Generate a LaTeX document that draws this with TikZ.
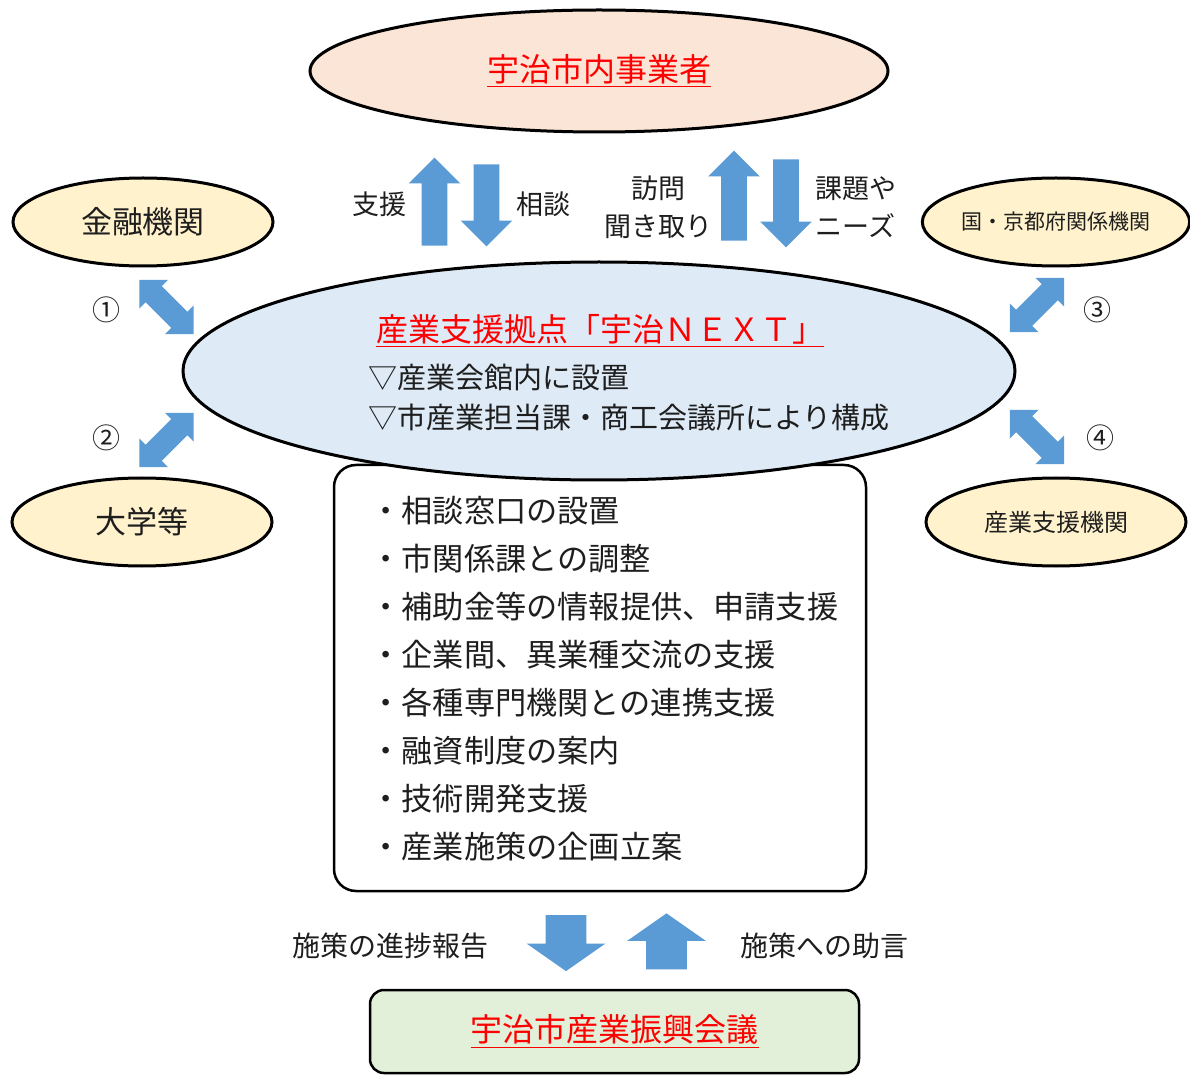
\documentclass[tikz,border=0pt]{standalone}
\usepackage{fontspec}
\setmainfont{Noto Sans CJK JP}
\usepackage{tikz}
\usetikzlibrary{shapes.geometric,shapes.arrows,positioning}
\definecolor{peach}{RGB}{251,229,214}
\definecolor{cream}{RGB}{255,242,204}
\definecolor{skyfill}{RGB}{222,235,247}
\definecolor{leaf}{RGB}{226,240,217}
\definecolor{flow}{RGB}{91,155,213}
\definecolor{title}{RGB}{255,0,0}
\definecolor{ink}{RGB}{30,30,30}
\tikzset{
  party/.style={ellipse,draw=black,line width=1.5pt,inner sep=0pt,text=ink},
  partner/.style={party,fill=cream,minimum width=130pt,minimum height=44pt,font=\fontsize{15.5}{18}\selectfont},
  redtitle/.style={text=title,inner sep=0pt},
  lbl/.style={text=ink,inner sep=0pt,font=\fontsize{13.5}{19}\selectfont},
  numlbl/.style={text=ink,inner sep=0pt,font=\fontsize{14}{16}\selectfont},
  listitem/.style={anchor=west,text=ink,inner sep=0pt,font=\fontsize{15.6}{18}\selectfont},
  upflow/.style={single arrow,fill=flow,draw=none,inner xsep=0pt,inner ysep=6.25pt,rotate=90,
    single arrow head extend=6.5pt},
  downflow/.style={upflow,rotate=180},
  wideflow/.style={single arrow,fill=flow,draw=none,inner xsep=0pt,inner ysep=10pt,
    minimum height=28pt,single arrow head extend=9.5pt,
    single arrow tip angle=110},
  linkflow/.style={double arrow,fill=flow,draw=none,inner xsep=0pt,inner ysep=5.5pt,
    minimum height=38.5pt,double arrow head extend=4.5pt}
}
\begin{document}
\begin{tikzpicture}[x=0.5pt,y=-0.5pt]
  \useasboundingbox (0,0) rectangle (1190,1075);
  % top: businesses in the city
  \node[party,fill=peach,minimum width=289pt,minimum height=61pt,text=title,
    font=\fontsize{16}{18}\selectfont] (firms) at (599,71) {\underline{宇治市内事業者}};
  \node[upflow,minimum height=44pt] (supup) at (434.5,208) {};
  \node[downflow,minimum height=41pt] (consdown) at (486.5,199) {};
  \node[lbl] (sup) at (379,204) {支援};
  \node[lbl] (cons) at (543,204) {相談};
  \node[upflow,minimum height=45pt] (visitup) at (734,202) {};
  \node[downflow,minimum height=44pt] (needdown) at (786,197) {};
  \node[lbl,align=center] (visit) at (658,207) {訪問\\聞き取り};
  \node[lbl,align=left] (needs) at (856,207) {課題や\\ニーズ};
  % partners
  \node[partner] (bank) at (143,222) {金融機関};
  \node[partner] (univ) at (142,522) {大学等};
  \node[partner,font=\fontsize{10.5}{12}\selectfont] (gov) at (1056,222) {国・京都府関係機関};
  \node[partner,font=\fontsize{12}{14}\selectfont] (agency) at (1056,522) {産業支援機関};
  % services box sits behind the hub
  \node[draw=black,line width=1.25pt,rounded corners=11pt,fill=white,
    minimum width=266pt,minimum height=213pt] (services) at (600,678) {};
  \foreach \txt [count=\k from 0] in {相談窓口の設置,市関係課との調整,
      補助金等の情報提供、申請支援,企業間、異業種交流の支援,各種専門機関との連携支援,
      融資制度の案内,技術開発支援,産業施策の企画立案}
    \node[listitem] (item\k) at (370,{511+48*\k}) {・\txt};
  % hub
  \node[party,fill=skyfill,minimum width=416pt,minimum height=109pt] (hub) at (599,371) {};
  \node[redtitle,font=\fontsize{16}{18}\selectfont] (hubname) at (600,331) {\underline{産業支援拠点「宇治ＮＥＸＴ」}};
  \node[anchor=west,text=ink,inner sep=0pt,font=\fontsize{14.5}{20}\selectfont,align=left]
    (hubnote) at (368,398) {▽産業会館内に設置\\▽市産業担当課・商工会議所により構成};
  % links to partners
  \node[linkflow,rotate=-45] (link1) at (166.5,307) {};
  \node[linkflow,rotate=45] (link2) at (166.5,440) {};
  \node[linkflow,rotate=45] (link3) at (1037,305) {};
  \node[linkflow,rotate=-45] (link4) at (1037,437) {};
  \node[numlbl] (n1) at (106,310) {①};
  \node[numlbl] (n2) at (106,438) {②};
  \node[numlbl] (n3) at (1097,310) {③};
  \node[numlbl] (n4) at (1100,438) {④};
  % council
  \node[wideflow,rotate=-90] (report) at (566,936) {};
  \node[wideflow,rotate=90] (advice) at (666.5,948.5) {};
  \node[lbl,font=\fontsize{14}{16}\selectfont] (reportlbl) at (390,946) {施策の進捗報告};
  \node[lbl,font=\fontsize{14}{16}\selectfont] (advicelbl) at (824,946) {施策への助言};
  \node[draw=black,line width=1.25pt,rounded corners=7pt,fill=leaf,
    minimum width=244.5pt,minimum height=41.5pt,text=title,
    font=\fontsize{16}{18}\selectfont] (council) at (614.5,1031.5) {\underline{宇治市産業振興会議}};
\end{tikzpicture}
\end{document}
